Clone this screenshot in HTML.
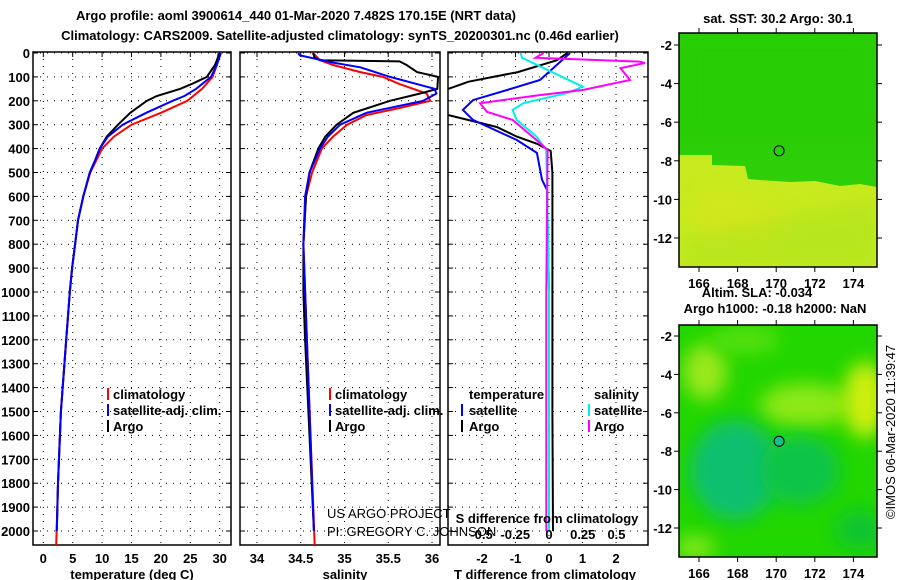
<!DOCTYPE html>
<html><head><meta charset="utf-8"><style>
html,body{margin:0;padding:0;background:#fff;}
svg{display:block;font-family:"Liberation Sans",sans-serif;}
.t{font-weight:bold;font-size:13px;fill:#000;}
.tk{font-weight:bold;font-size:13px;fill:#000;}
</style></head><body>
<svg id="c" width="900" height="580" viewBox="0 0 900 580" xmlns="http://www.w3.org/2000/svg">
<defs>
<filter id="bl" x="-50%" y="-50%" width="200%" height="200%"><feGaussianBlur stdDeviation="9"/></filter>
<clipPath id="cp1"><rect x="33" y="52" width="198" height="493"/></clipPath>
<clipPath id="cp2"><rect x="240" y="52" width="200" height="493"/></clipPath>
<clipPath id="cp3"><rect x="448" y="52" width="200" height="493"/></clipPath>
<clipPath id="cm1"><rect x="679" y="33" width="198" height="234"/></clipPath>
<clipPath id="cm2"><rect x="679" y="325" width="198" height="232"/></clipPath>
</defs>
<text class="t" x="296" y="20" text-anchor="middle" font-size="14">Argo profile: aoml 3900614_440 01-Mar-2020 7.482S 170.15E (NRT data)</text>
<text class="t" x="340" y="40" text-anchor="middle" font-size="14">Climatology: CARS2009. Satellite-adjusted climatology: synTS_20200301.nc (0.46d earlier)</text>
<g id="g"></g>
</svg>
<script>
// ---------- data ----------
var depthTicks = [0,100,200,300,400,500,600,700,800,900,1000,1100,1200,1300,1400,1500,1600,1700,1800,1900,2000];
var tempTicks = [0,5,10,15,20,25,30];
var salTicks = [34,34.5,35,35.5,36];
var dtTicks = [-2,-1,0,1,2];
var dsTicks = [-0.5,-0.25,0,0.25,0.5];

var tArgoDepth = [0,50,100,130,150,180,200,250,300,350,400,450,500,600,700,800,900,1000,1200,1500,1800,2000];
var tArgo      = [30,29.2,27.8,25.2,23.3,19.3,17.6,14.8,12.7,10.8,9.6,8.8,7.9,6.8,5.9,5.4,4.9,4.5,3.9,3.0,2.5,2.3];
var tSatDepth  = [0,50,100,150,180,200,250,300,350,400,450,500,600,700,800,900,1000,1200,1500,1800,2000];
var tSat       = [30.2,29.5,28.5,26,24,22,17.5,13.5,11,9.6,8.8,7.9,6.8,5.9,5.4,4.9,4.5,3.9,3.0,2.5,2.3];
var tClimDepth = [0,50,100,150,200,250,300,350,400,450,500,600,700,800,900,1000,1200,1500,1800,2060];
var tClim      = [29.8,29.5,28.8,27,24.5,20,15,12,10,9,8,6.8,5.9,5.4,4.9,4.5,3.9,3.0,2.5,2.2];

var sArgoDepth = [0,20,30,35,50,80,100,150,170,200,250,300,350,400,500,600,800,1000,1200,2000];
var sArgo      = [34.64,34.66,34.72,35.63,35.71,35.83,36.07,36.06,35.86,35.52,35.1,34.91,34.78,34.7,34.6,34.56,34.53,34.53,34.55,34.65];
var sSatDepth  = [0,10,40,60,100,150,170,200,250,300,350,400,500,600,800,1200,2000];
var sSat       = [34.47,34.49,34.87,35.18,35.52,36.03,36.05,35.9,35.25,34.95,34.81,34.72,34.6,34.55,34.53,34.57,34.65];
var sClimDepth = [0,30,50,80,100,130,170,200,230,260,300,350,400,500,600,800,1200,2060];
var sClim      = [34.64,34.72,34.87,35.18,35.44,35.63,35.94,35.98,35.63,35.25,35.03,34.87,34.74,34.63,34.56,34.53,34.57,34.66];

var dtArgoDepth = [0,30,80,120,150,null,260,310,350,380,410,500,1000,1500,2000];
var dtArgo      = [0.55,0.24,-0.93,-2.4,-3,null,-3,-1.55,-0.96,-0.36,0.05,0.1,0.1,0.1,0.12];
var dtSatDepth  = [0,113,155,197,238,280,364,418,530,573,1000,2000];
var dtSat       = [0.63,-0.27,-1.25,-2.27,-2.57,-2.27,-0.96,-0.36,-0.21,-0.06,0,0];
var dsSatDepth  = [0,20,71,141,168,210,238,280,351,406,1000,2000];
var dsSat       = [-0.21,-0.2,-0.01,0.25,0.13,-0.19,-0.27,-0.24,-0.09,-0.02,0,0];
var dsArgoDepth = [0,20,36,42,63,113,155,176,210,246,280,351,406,1000,2000];
var dsArgo      = [-0.04,-0.1,0.67,0.71,0.53,0.6,0.25,-0.07,-0.51,-0.46,-0.27,-0.12,-0.01,-0.02,-0.02];

var lonTicks = [166,168,170,172,174];
var latTicks = [-2,-4,-6,-8,-10,-12];
var floatLon = 170.15, floatLat = -7.482;

// ---------- axes ----------
var NS='http://www.w3.org/2000/svg', G=document.getElementById('g');
function el(t,a,p){var e=document.createElementNS(NS,t);for(var k in a)e.setAttribute(k,a[k]);(p||G).appendChild(e);return e;}
function yD(d){return 53+d*0.239;}
function xT(v){return 43.3+v*5.88;}
function xS(v){return 257+(v-34)*87.5;}
function xDT(v){return 549+v*33.5;}
function xDS(v){return 549+v*135;}
function xLon(v){return 699+(v-166)*19.3;}
function yLat1(v){return 45+(-2-v)*19.3;}
function yLat2(v){return 336+(-2-v)*19.2;}

var panels=[{x:33,w:198,fx:xT,ticks:tempTicks,cp:'cp1',name:'temperature-panel',lab:'temperature (deg C)',lx:132},
            {x:240,w:200,fx:xS,ticks:salTicks,cp:'cp2',name:'salinity-panel',lab:'salinity',lx:345},
            {x:448,w:200,fx:xDT,ticks:dtTicks,cp:'cp3',name:'difference-panel',lab:'T difference from climatology',lx:545}];
panels.forEach(function(p,pi){
  var g=el('g',{});
  
  
  depthTicks.forEach(function(d){
    var l=el('line',{x1:p.x,x2:p.x+p.w,y1:yD(d),y2:yD(d),stroke:'#000','stroke-width':1,'stroke-dasharray':'1,6'},g);
    
    
    el('line',{x1:p.x,x2:p.x+5,y1:yD(d),y2:yD(d),stroke:'#000'},g);
    el('line',{x1:p.x+p.w-5,x2:p.x+p.w,y1:yD(d),y2:yD(d),stroke:'#000'},g);
  });
  p.ticks.forEach(function(v){
    var x=p.fx(v);
    var l=el('line',{x1:x,x2:x,y1:52,y2:545,stroke:'#000','stroke-dasharray':'1,6'},g);
    
    
    el('line',{x1:x,x2:x,y1:52,y2:57,stroke:'#000'},g);
    var t=el('text',{x:x,y:563,'text-anchor':'middle','class':'tk'},g);t.textContent=String(v);
    
    
  });
  el('rect',{x:p.x,y:52,width:p.w,height:493,fill:'none',stroke:'#000','stroke-width':1.5},g);
  var t=el('text',{x:p.lx,y:579,'text-anchor':'middle','class':'tk'},g);t.textContent=p.lab;
  
  
});
depthTicks.forEach(function(d){
  var t=el('text',{x:30,y:yD(d)+5,'text-anchor':'end','class':'tk'});t.textContent=String(d);
  
  
});

function line(ds,vs,fx,col,cp,name,w){
  var d='',pen=false;
  for(var i=0;i<ds.length;i++){
    if(ds[i]===null){pen=false;continue;}
    d+=(pen?'L':'M')+fx(vs[i]).toFixed(1)+','+yD(ds[i]).toFixed(1);pen=true;
  }
  var e=el('path',{d:d,fill:'none',stroke:col,'stroke-width':w||2,'clip-path':'url(#'+cp+')'});
  
  
}
line(tClimDepth,tClim,xT,'#f00','cp1','temp-climatology-line');
line(tArgoDepth,tArgo,xT,'#000','cp1','temp-argo-line');
line(tSatDepth,tSat,xT,'#00f','cp1','temp-satellite-line');
line(sClimDepth,sClim,xS,'#f00','cp2','sal-climatology-line');
line(sArgoDepth,sArgo,xS,'#000','cp2','sal-argo-line');
line(sSatDepth,sSat,xS,'#00f','cp2','sal-satellite-line');
line(dtArgoDepth,dtArgo,xDT,'#000','cp3','dt-argo-line');
line(dtSatDepth,dtSat,xDT,'#00f','cp3','dt-satellite-line');
line(dsSatDepth,dsSat,xDS,'#0ee','cp3','ds-satellite-line');
line(dsArgoDepth,dsArgo,xDS,'#f0f','cp3','ds-argo-line');

// S diff axis labels inside panel 3
var st=el('text',{x:547,y:523,'text-anchor':'middle','class':'tk'});st.textContent='S difference from climatology';


dsTicks.forEach(function(v){
  var t=el('text',{x:xDS(v),y:539,'text-anchor':'middle','class':'tk'});t.textContent=String(v);
  
  
});
var pi1=el('text',{x:327,y:518,'font-size':13,fill:'#000'});pi1.textContent='US ARGO PROJECT';


var pi2=el('text',{x:327,y:536,'font-size':13,fill:'#000'});pi2.textContent='PI: GREGORY C. JOHNSON';



// legends
function leg(mx,tx,y,col,txt,name){
  if(col){el('rect',{x:mx,y:y-11,width:2,height:12,fill:col});}
  var t=el('text',{x:tx,y:y,'class':'tk'});t.textContent=txt;
  
  
}
leg(107,113,399,'#f00','climatology','legend-climatology');
leg(107,113,415,'#00f','satellite-adj. clim.','legend-satellite-adj');
leg(107,113,431,'#000','Argo','legend-argo');
leg(329,335,399,'#f00','climatology','legend-climatology');
leg(329,335,415,'#00f','satellite-adj. clim.','legend-satellite-adj');
leg(329,335,431,'#000','Argo','legend-argo');
leg(0,469,399,null,'temperature','legend-temperature-header');
leg(461,469,415,'#00f','satellite','legend-t-satellite');
leg(461,469,431,'#000','Argo','legend-t-argo');
leg(0,594,399,null,'salinity','legend-salinity-header');
leg(588,594,415,'#0ee','satellite','legend-s-satellite');
leg(588,594,431,'#f0f','Argo','legend-s-argo');

// ---------- maps ----------
function mapAxes(y0,h,yl,name){
  var g=el('g',{});
  
  
  el('rect',{x:679,y:y0,width:198,height:h,fill:'none',stroke:'#000','stroke-width':1.5},g);
  lonTicks.forEach(function(v){
    var x=xLon(v);
    el('line',{x1:x,x2:x,y1:y0-5,y2:y0,stroke:'#000'},g);
    el('line',{x1:x,x2:x,y1:y0+h,y2:y0+h+5,stroke:'#000'},g);
    var t=el('text',{x:x,y:y0+h+21,'text-anchor':'middle','class':'tk','font-size':14},g);t.textContent=String(v);
    
    
  });
  latTicks.forEach(function(v){
    var y=yl(v);
    el('line',{x1:674,x2:679,y1:y,y2:y,stroke:'#000'},g);
    el('line',{x1:877,x2:882,y1:y,y2:y,stroke:'#000'},g);
    var t=el('text',{x:672,y:y+5,'text-anchor':'end','class':'tk','font-size':14},g);t.textContent=String(v);
    
    
  });
}
// SST map
var m1=el('g',{'clip-path':'url(#cm1)'});


el('rect',{x:679,y:33,width:198,height:234,fill:'#c8ea1e'},m1);
el('path',{d:'M679,33H877V187L860,184L840,186L815,181L790,182L760,180L748,179L745,166L712,165L712,155L679,155Z',fill:'#2ece08'},m1);
el('path',{d:'M700,190L760,200L800,230L760,255L700,250Z',fill:'#d8e41a',opacity:0.6,filter:'url(#bl)'},m1);
el('path',{d:'M679,240L877,200L877,267L679,267Z',fill:'#a6e31c',opacity:0.5,filter:'url(#bl)'},m1);
el('path',{d:'M679,33H877V140H679Z',fill:'#24cc06',opacity:0.5,filter:'url(#bl)'},m1);
el('circle',{cx:xLon(floatLon),cy:yLat1(floatLat),r:5,fill:'none',stroke:'#000'});
mapAxes(33,234,yLat1,'sst-map-axes');
// SLA map
var m2=el('g',{'clip-path':'url(#cm2)'});


el('rect',{x:679,y:325,width:198,height:232,fill:'#22d600'},m2);
el('ellipse',{cx:705,cy:372,rx:22,ry:28,fill:'#9ae81a',filter:'url(#bl)'},m2);
el('ellipse',{cx:805,cy:405,rx:45,ry:22,fill:'#8ce816',filter:'url(#bl)'},m2);
el('ellipse',{cx:865,cy:400,rx:22,ry:38,fill:'#ccee08',filter:'url(#bl)'},m2);
el('ellipse',{cx:745,cy:340,rx:35,ry:14,fill:'#55e010',filter:'url(#bl)'},m2);
el('ellipse',{cx:735,cy:470,rx:45,ry:50,fill:'#08c070',filter:'url(#bl)'},m2);
el('ellipse',{cx:800,cy:470,rx:40,ry:35,fill:'#10c448',filter:'url(#bl)'},m2);
el('ellipse',{cx:860,cy:530,rx:25,ry:20,fill:'#10c430',filter:'url(#bl)'},m2);
el('ellipse',{cx:695,cy:548,rx:20,ry:12,fill:'#88e81e',filter:'url(#bl)'},m2);
el('circle',{cx:xLon(floatLon),cy:yLat2(floatLat),r:5,fill:'#10c090',stroke:'#000'});
mapAxes(325,232,yLat2,'sla-map-axes');

function txt(x,y,s,name,extra){var t=el('text',Object.assign({x:x,y:y,'class':'tk','text-anchor':'middle'},extra||{}));t.textContent=s;

return t;}
txt(778,23,'sat. SST: 30.2 Argo: 30.1','sst-map-title');
txt(757,297,'Altim. SLA: -0.034','sla-title');
txt(775,313,'Argo h1000: -0.18 h2000: NaN','sla-map-title');
var r=txt(0,0,'©IMOS 06-Mar-2020 11:39:47','timestamp-label',{transform:'translate(895,432) rotate(-90)',style:'font-weight:normal;font-size:13px'});
</script>
</body></html>
